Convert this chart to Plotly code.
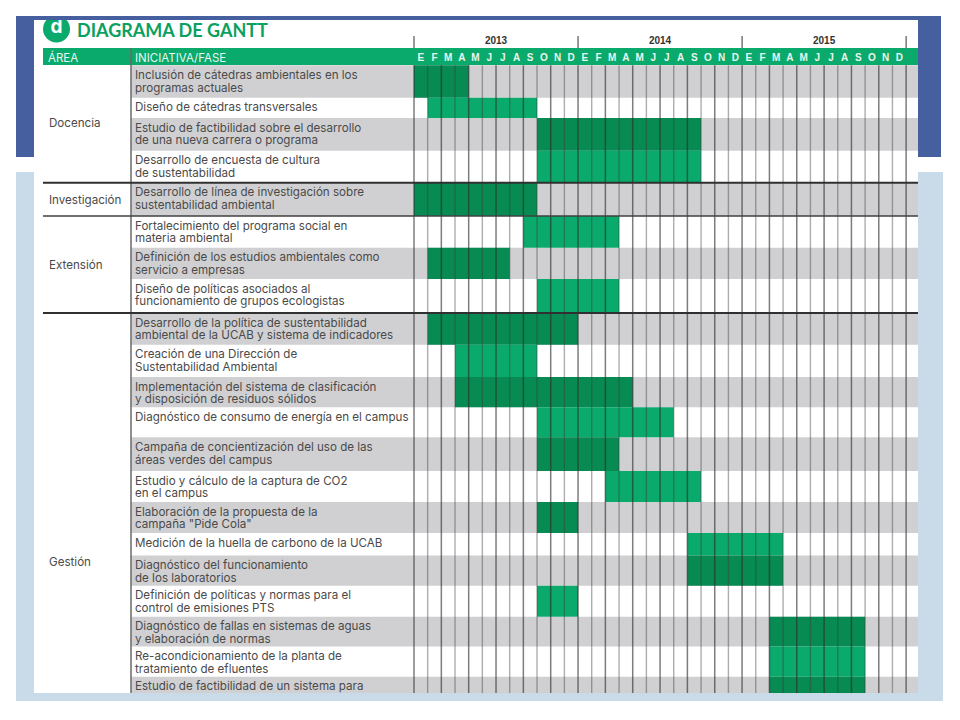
import plotly.graph_objects as go

# ---------- data ----------
AREAS = ["Docencia", "Investigación", "Extensión", "Gestión"]
YEARS = ["2013", "2014", "2015"]
MONTHS = list("EFMAMJJASOND") * 3
HEAD_AREA = "ÁREA"
HEAD_INIT = "INICIATIVA/FASE"
TITLE = "DIAGRAMA DE GANTT"
TASKS = [
    ["Inclusión de cátedras ambientales en los", "programas actuales"],
    ["Diseño de cátedras transversales"],
    ["Estudio de factibilidad sobre el desarrollo", "de una nueva carrera o programa"],
    ["Desarrollo de encuesta de cultura", "de sustentabilidad"],
    ["Desarrollo de línea de investigación sobre", "sustentabilidad ambiental"],
    ["Fortalecimiento del programa social en", "materia ambiental"],
    ["Definición de los estudios ambientales como", "servicio a empresas"],
    ["Diseño de políticas asociados al", "funcionamiento de grupos ecologistas"],
    ["Desarrollo de la política de sustentabilidad", "ambiental de la UCAB y sistema de indicadores"],
    ["Creación de una Dirección de", "Sustentabilidad Ambiental"],
    ["Implementación del sistema de clasificación", "y disposición de residuos sólidos"],
    ["Diagnóstico de consumo de energía en el campus"],
    ["Campaña de concientización del uso de las", "áreas verdes del campus"],
    ["Estudio y cálculo de la captura de CO2", "en el campus"],
    ["Elaboración de la propuesta de la", "campaña \"Pide Cola\""],
    ["Medición de la huella de carbono de la UCAB"],
    ["Diagnóstico del funcionamiento", "de los laboratorios"],
    ["Definición de políticas y normas para el", "control de emisiones PTS"],
    ["Diagnóstico de fallas en sistemas de aguas", "y elaboración de normas"],
    ["Re-acondicionamiento de la planta de", "tratamiento de efluentes"],
    ["Estudio de factibilidad de un sistema para"],
]
START = [0, 1, 9, 9, 0, 8, 1, 9, 1, 3, 3, 9, 9, 14, 9, 20, 20, 9, 26, 26, 26]
END = [4, 9, 21, 21, 9, 15, 7, 15, 12, 9, 16, 19, 15, 21, 12, 27, 27, 12, 33, 33, 33]

# ---------- layout geometry (page pixels) ----------
W, H = 960, 720
MX0, MW = 414.0, 13.67
IMG = (34, 20, 918, 693)
ROW_EDGES = [65.3, 97.7, 118, 150.7, 182.7, 216, 247.7, 279, 313, 344.7, 377,
             407.3, 437.3, 471, 502, 533, 555.5, 585.7, 616.7, 646.5, 676.7, 720]
AREA_Y = [124, 201, 266, 563]
LEFT_X, INIT_X, TEXT_X, AREA_X = 43, 131, 135, 49


def mx(px):
    return (px - MX0) / MW


GREEN_L, GREEN_D, GRAY = "#0aa96c", "#088a53", "#d0d0d2"
BLUE_D, BLUE_L = "#46609f", "#c9dae8"
TXT, FONT = "#4a4a4a", "Inter"
NARROW = "Liberation Sans Narrow"

fig = go.Figure()
n = len(TASKS)
centers = [(ROW_EDGES[i] + ROW_EDGES[i + 1]) / 2 for i in range(n)]
heights = [ROW_EDGES[i + 1] - ROW_EDGES[i] for i in range(n)]
gray_idx = [i for i in range(n) if i % 2 == 0]

# header band and gray rows
fig.add_bar(orientation="h", y=[56.5], width=[17], base=[mx(LEFT_X)],
            x=[mx(IMG[2]) - mx(LEFT_X)], marker=dict(color=GREEN_L, line_width=0))
fig.add_bar(orientation="h", y=[centers[i] for i in gray_idx], width=[heights[i] for i in gray_idx],
            base=[mx(INIT_X)] * len(gray_idx), x=[mx(IMG[2]) - mx(INIT_X)] * len(gray_idx),
            marker=dict(color=GRAY, line_width=0))
# tasks
fig.add_bar(orientation="h", y=centers, width=heights, base=START,
            x=[e - s for s, e in zip(START, END)],
            marker=dict(color=[GREEN_D if i % 2 == 0 else GREEN_L for i in range(n)], line_width=0))


def vlines(ks, y0, y1, color, width):
    xs, ys = [], []
    for k in ks:
        xs += [k, k, None]
        ys += [y0, y1, None]
    fig.add_scatter(x=xs, y=ys, mode="lines", line=dict(color=color, width=width))


vlines(range(0, 37, 2), 65.3, 693, "rgba(45,45,45,0.62)", 1.5)
vlines(range(1, 37, 2), 65.3, 693, "rgba(60,60,60,0.42)", 1.4)
vlines([0, 12, 24, 36], 36, 48, "#555555", 1.2)
vlines([mx(INIT_X)], 48, 693, "#6a6a6a", 1.5)

# horizontal separators
for y, w, c in [(182.7, 2.0, "#303030"), (216, 1.5, "#404040"), (313, 2.0, "#303030")]:
    fig.add_scatter(x=[mx(LEFT_X), mx(IMG[2])], y=[y, y], mode="lines", line=dict(color=c, width=w))


def texts(xs, ys, labels, size, color, family=FONT, pos="middle right"):
    fig.add_scatter(x=xs, y=ys, text=labels, mode="text", textposition=pos, cliponaxis=True,
                    textfont=dict(size=size, color=color, family=family))


# task labels
lx, ly, lt = [], [], []
for i, lines in enumerate(TASKS):
    for j, s in enumerate(lines):
        lx.append(mx(TEXT_X))
        ly.append(ROW_EDGES[i] + 10.7 + 12.8 * j)
        lt.append(s)
texts(lx, ly, lt, 11.6, TXT)

# area labels
texts([mx(AREA_X)] * len(AREAS), AREA_Y, AREAS, 11.6, TXT)

# header labels
texts([mx(48), mx(TEXT_X)], [59, 59], [HEAD_AREA, HEAD_INIT], 11.5, "#e8f7ef")
texts([k + 0.5 for k in range(36)], [58.5] * 36, ["<b>" + m + "</b>" for m in MONTHS], 10, "#e8f7ef",
      family=NARROW + ", sans-serif", pos="middle center")
texts([6, 18, 30], [41.5, 41.5, 41.5], ["<b>" + y + "</b>" for y in YEARS], 10, "#333333",
      family=NARROW + ", sans-serif", pos="middle center")

# title with logo
fig.add_scatter(x=[mx(56.5)], y=[29], mode="markers", cliponaxis=True,
                marker=dict(size=27, color=GREEN_L, line_width=0))
texts([mx(56.5)], [28], ["<b>d</b>"], 19, "#ffffff", pos="middle center")
texts([mx(77)], [32], ["<b>" + TITLE + "</b>"], 18, "#0aa060", family="Lato")


def paper_rect(x0, y0, x1, y1, color):
    return dict(type="rect", xref="paper", yref="paper", x0=x0 / W, x1=x1 / W,
                y0=1 - y1 / H, y1=1 - y0 / H, fillcolor=color, line_width=0, layer="below")


fig.update_layout(
    width=W, height=H, margin=dict(l=0, r=0, t=0, b=0), autosize=False,
    paper_bgcolor="white", plot_bgcolor="rgba(0,0,0,0)", showlegend=False,
    barmode="overlay", hovermode=False,
    xaxis=dict(domain=[IMG[0] / W, IMG[2] / W], range=[mx(IMG[0]), mx(IMG[2])], visible=False, fixedrange=True),
    yaxis=dict(domain=[1 - IMG[3] / H, 1 - IMG[1] / H], range=[IMG[3], IMG[1]], visible=False, fixedrange=True),
    shapes=[paper_rect(16, 16, 941, 157, BLUE_D), paper_rect(16, 172, 943, 701, BLUE_L),
            paper_rect(*IMG, "white")],
)
fig.write_html("out.html", post_script="document.body.style.margin='0';",
               config={"displayModeBar": False})
